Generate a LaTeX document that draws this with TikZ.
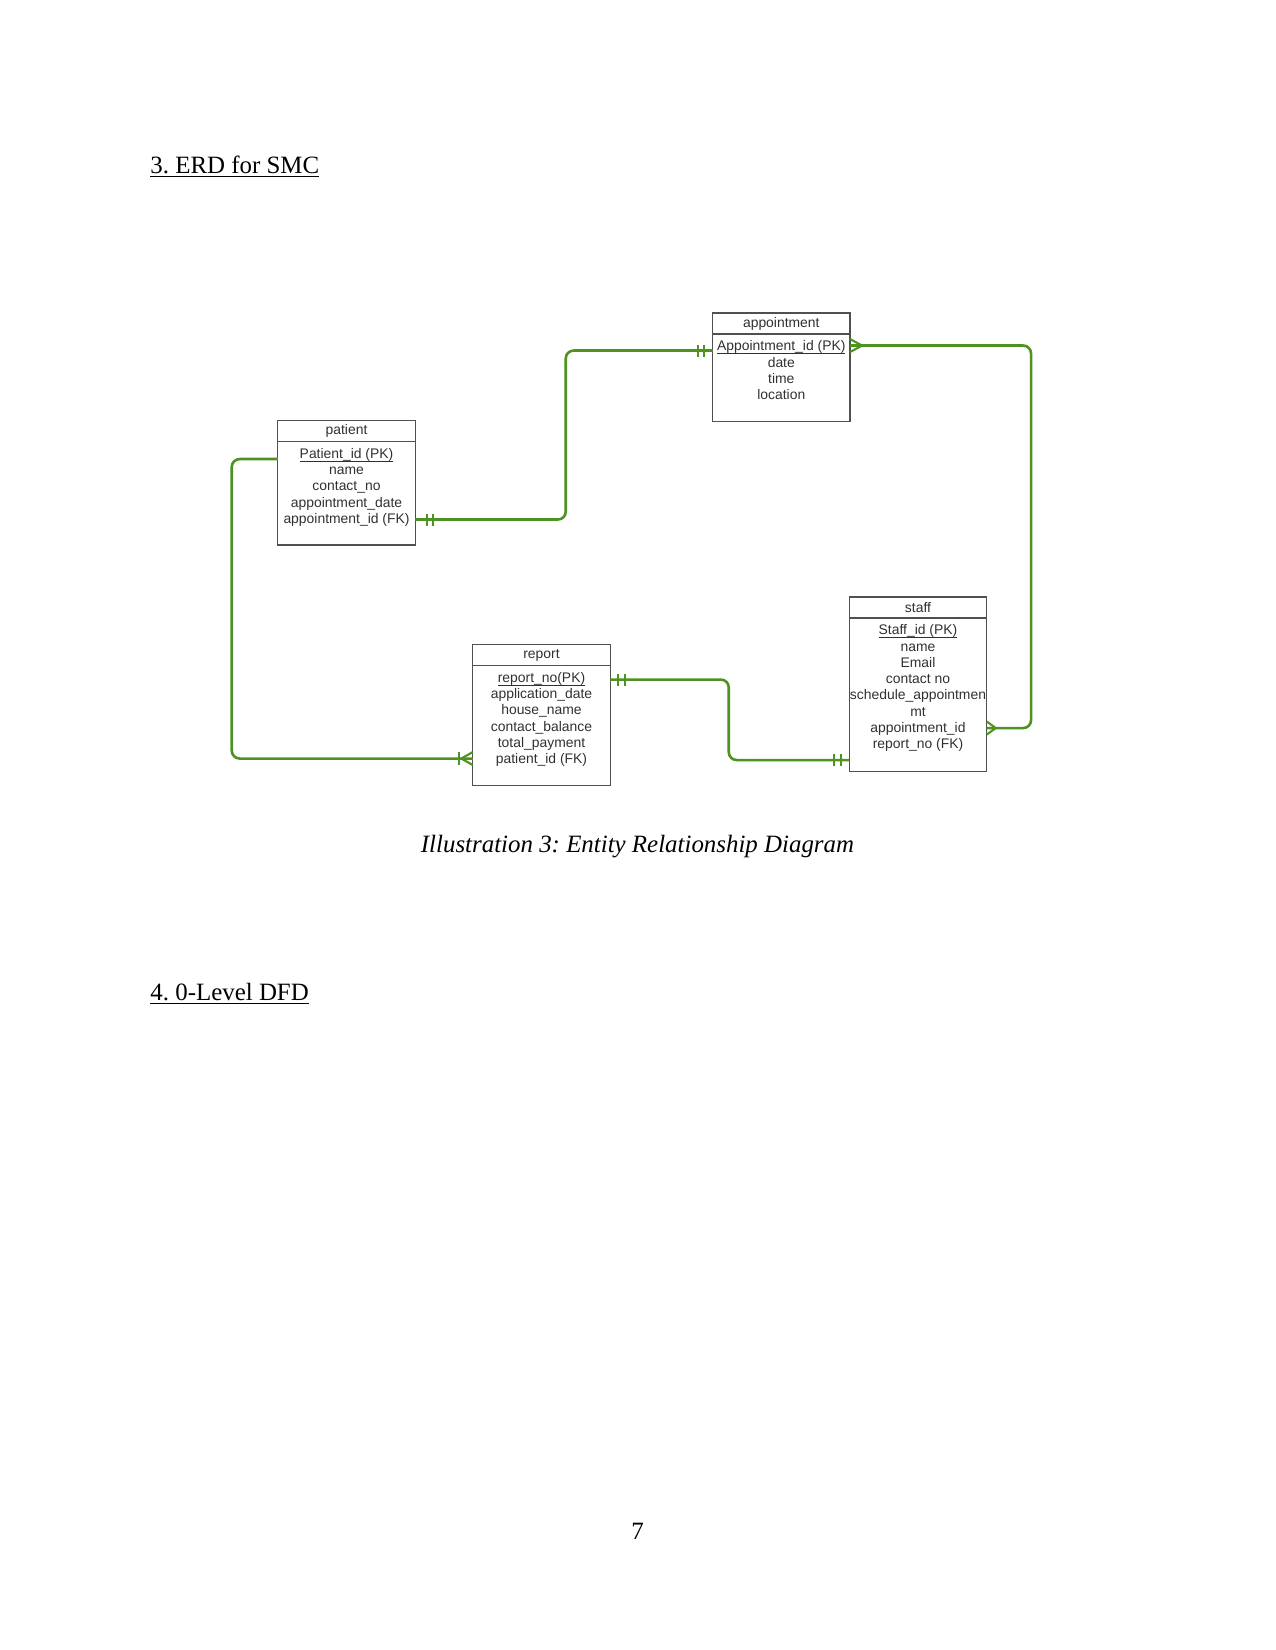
\documentclass[tikz,border=0pt]{standalone}
\usepackage{fontspec}
\setmainfont{Liberation Serif}
\newfontfamily\erdsans{Liberation Sans}
\usepackage{tikz}
\usetikzlibrary{positioning,calc}
\definecolor{ErdGreen}{HTML}{4E9222}
\definecolor{ErdEdge}{HTML}{505050}
\definecolor{ErdInk}{HTML}{303030}
\newcommand\pkrow[1]{\underline{\raisebox{0pt}[\height][0pt]{#1}}}
\frenchspacing

\begin{document}
\begin{tikzpicture}[x=0.48bp, y=-0.48bp, node distance=0pt, every node/.style={inner sep=0pt}, ehead/.style={draw=ErdEdge, line width=0.7bp, outer sep=0pt, fill=white, minimum width=66bp, minimum height=10.1bp, font=\erdsans\fontsize{6.7}{7.85}\selectfont, text=ErdInk}, ebody/.style={draw=ErdEdge, line width=0.7bp, outer sep=0pt, minimum width=66bp}, erows/.style={align=center, inner ysep=3bp, font=\erdsans\fontsize{6.7}{7.85}\selectfont, text=ErdInk}, link/.style={draw=ErdGreen, line width=1.25bp, rounded corners=3.8bp}, endbar/.style={draw=ErdGreen, line width=1bp}, pagetext/.style={font=\fontsize{12}{14}\selectfont}]
\useasboundingbox (0,0) rectangle (1275,1650);
% page text
\node[pagetext, anchor=base west] (erdtitle) at (150,173) {\underline{3. ERD for SMC}};
\node[pagetext, anchor=base] (erdcap) at (637.5,852) {\itshape Illustration 3: Entity Relationship Diagram};
\node[pagetext, anchor=base west] (dfdtitle) at (150,1000) {\underline{4. 0-Level DFD}};
\node[pagetext, anchor=base] (pageno) at (637.5,1539) {7};
% entities
\node[ehead, anchor=north] (patient) at (346.5,420.5) {patient};
\node[ebody, minimum height=49.7bp, below=of patient] (patientb) {};
\node[erows, anchor=north] (patientr) at (patientb.north) {\pkrow{Patient\_id (PK)}\\name\\contact\_no\\appointment\_date\\appointment\_id (FK)};
\node[ehead, anchor=north] (appointment) at (781.3,313) {appointment};
\node[ebody, minimum height=42bp, below=of appointment] (appointmentb) {};
\node[erows, anchor=north] (appointmentr) at (appointmentb.north) {\pkrow{Appointment\_id (PK)}\\date\\time\\location};
\node[ehead, anchor=north] (report) at (541.5,644.5) {report};
\node[ebody, minimum height=57.6bp, below=of report] (reportb) {};
\node[erows, anchor=north] (reportr) at (reportb.north) {\pkrow{report\_no(PK)}\\application\_date\\house\_name\\contact\_balance\\total\_payment\\patient\_id (FK)};
\node[ehead, anchor=north] (staff) at (918,597) {staff};
\node[ebody, minimum height=73.7bp, below=of staff] (staffb) {};
\node[erows, anchor=north] (staffr) at (staffb.north) {\pkrow{Staff\_id (PK)}\\name\\Email\\contact no\\schedule\_appointmen\\mt\\appointment\_id\\report\_no (FK)};
% relationship ends
\coordinate (p-fk) at ($(patientb.north east)+(0,78)$);
\coordinate (p-left) at ($(patientb.north west)+(0,17.5)$);
\coordinate (a-pk) at ($(appointmentb.north west)+(0,16.5)$);
\coordinate (a-many) at ($(appointmentb.north east)+(0,11.5)$);
\coordinate (r-pk) at ($(reportb.north east)+(0,14)$);
\coordinate (r-many) at ($(reportb.north west)+(0,93)$);
\coordinate (s-one) at ($(staffb.north west)+(0,142)$);
\coordinate (s-many) at ($(staffb.north east)+(0,110)$);
% relationships
\draw[link] (p-fk) -- ++(150.5,0) |- (a-pk);
\draw[link] (a-many) -- ++(181,0) |- (s-many);
\draw[link] (p-left) -- ++(-46,0) |- (r-many);
\draw[link] (r-pk) -- ++(118.5,0) |- (s-one);
% cardinality marks
\draw[endbar] ($(p-fk)+(11.5,-6)$) -- ++(0,12); \draw[endbar] ($(p-fk)+(17.5,-6)$) -- ++(0,12);
\draw[endbar] ($(a-pk)+(-15,-6)$) -- ++(0,12); \draw[endbar] ($(a-pk)+(-9,-6)$) -- ++(0,12);
\draw[endbar] ($(r-pk)+(8,-6)$) -- ++(0,12); \draw[endbar] ($(r-pk)+(14.5,-6)$) -- ++(0,12);
\draw[endbar] ($(s-one)+(-15,-6)$) -- ++(0,12); \draw[endbar] ($(s-one)+(-8.5,-6)$) -- ++(0,12);
\draw[endbar] ($(a-many)+(0,-6.5)$) -- ($(a-many)+(12,0)$) -- ($(a-many)+(0,6.5)$);
\draw[endbar] ($(s-many)+(0,-6.5)$) -- ($(s-many)+(9,0)$) -- ($(s-many)+(0,6.5)$);
\draw[endbar] ($(r-many)+(0,-6.5)$) -- ($(r-many)+(-11.5,0)$) -- ($(r-many)+(0,6.5)$);
\draw[endbar] ($(r-many)+(-14,-6.5)$) -- ++(0,13);
\end{tikzpicture}
\end{document}
